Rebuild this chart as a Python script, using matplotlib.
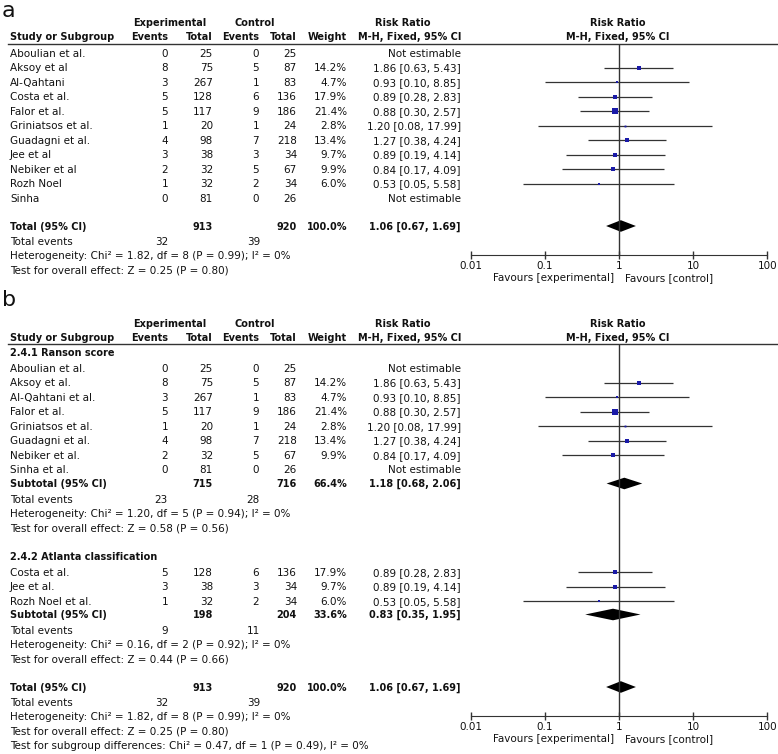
import matplotlib.pyplot as plt

plt.rcParams['font.family'] = ['DejaVu Sans']

# ---- study data (order of panel a) ----
names_a = ["Aboulian et al.", "Aksoy et al", "Al-Qahtani", "Costa et al.", "Falor et al.",
           "Griniatsos et al.", "Guadagni et al.", "Jee et al", "Nebiker et al", "Rozh Noel", "Sinha"]
exp_events = [0, 8, 3, 5, 5, 1, 4, 3, 2, 1, 0]
exp_total = [25, 75, 267, 128, 117, 20, 98, 38, 32, 32, 81]
ctrl_events = [0, 5, 1, 6, 9, 1, 7, 3, 5, 2, 0]
ctrl_total = [25, 87, 83, 136, 186, 24, 218, 34, 67, 34, 26]
weight = [None, 14.2, 4.7, 17.9, 21.4, 2.8, 13.4, 9.7, 9.9, 6.0, None]
rr = [None, 1.86, 0.93, 0.89, 0.88, 1.20, 1.27, 0.89, 0.84, 0.53, None]
rr_lo = [None, 0.63, 0.10, 0.28, 0.30, 0.08, 0.38, 0.19, 0.17, 0.05, None]
rr_hi = [None, 5.43, 8.85, 2.83, 2.57, 17.99, 4.24, 4.14, 4.09, 5.58, None]

# ---- panel b subgroups (indices into the lists above) ----
ranson_idx = [0, 1, 2, 4, 5, 6, 8, 10]
ranson_names = ["Aboulian et al.", "Aksoy et al.", "Al-Qahtani et al.", "Falor et al.",
                "Griniatsos et al.", "Guadagni et al.", "Nebiker et al.", "Sinha et al."]
atlanta_idx = [3, 7, 9]
atlanta_names = ["Costa et al.", "Jee et al.", "Rozh Noel et al."]

# ---- pooled results ----
total_n = [913, 920]
total_events = [32, 39]
total_rr = [1.06, 0.67, 1.69]
total_het = "Heterogeneity: Chi² = 1.82, df = 8 (P = 0.99); I² = 0%"
total_z = "Test for overall effect: Z = 0.25 (P = 0.80)"

ranson_n = [715, 716]
ranson_events = [23, 28]
ranson_weight = 66.4
ranson_rr = [1.18, 0.68, 2.06]
ranson_het = "Heterogeneity: Chi² = 1.20, df = 5 (P = 0.94); I² = 0%"
ranson_z = "Test for overall effect: Z = 0.58 (P = 0.56)"

atlanta_n = [198, 204]
atlanta_events = [9, 11]
atlanta_weight = 33.6
atlanta_rr = [0.83, 0.35, 1.95]
atlanta_het = "Heterogeneity: Chi² = 0.16, df = 2 (P = 0.92); I² = 0%"
atlanta_z = "Test for overall effect: Z = 0.44 (P = 0.66)"

subgroup_test = "Test for subgroup differences: Chi² = 0.47, df = 1 (P = 0.49), I² = 0%"

axis_ticks = [0.01, 0.1, 1, 10, 100]
axis_labels = ["0.01", "0.1", "1", "10", "100"]

# ---- layout (pixels) ----
W, H = 778, 754
FS = 7.5
FS_B = 7
X_NAME, X_EE, X_ET, X_CE, X_CT, X_W, X_RR = 10, 168, 213, 259, 297, 347, 461
X_PLOT0, X_PLOT1 = 470.7, 767.3
ROW = 14.5
LINE_C = '#333333'
SQ_C = '#1a1aa8'

fig = plt.figure(figsize=(W / 100, H / 100), dpi=100)
ax = fig.add_axes([0, 0, 1, 1])
ax.set_xlim(0, W)
ax.set_ylim(H, 0)
ax.axis('off')


def txt(x, y, s, ha='left', bold=False):
    ax.text(x, y + 3.7, s, ha=ha, va='baseline', fontsize=FS_B if bold else FS,
            fontweight='bold' if bold else 'normal', color='#111111')


def fmt_rr(r, lo, hi):
    return f"{r:.2f} [{lo:.2f}, {hi:.2f}]"


def header(y1, y2, yline, y_bot):
    txt(170, y1, "Experimental", ha='center', bold=True)
    txt(255, y1, "Control", ha='center', bold=True)
    txt(403, y1, "Risk Ratio", ha='center', bold=True)
    txt(618, y1, "Risk Ratio", ha='center', bold=True)
    txt(X_NAME, y2, "Study or Subgroup", bold=True)
    txt(X_EE, y2, "Events", ha='right', bold=True)
    txt(X_ET, y2, "Total", ha='right', bold=True)
    txt(X_CE, y2, "Events", ha='right', bold=True)
    txt(X_CT, y2, "Total", ha='right', bold=True)
    txt(X_W, y2, "Weight", ha='right', bold=True)
    txt(X_RR, y2, "M-H, Fixed, 95% CI", ha='right', bold=True)
    txt(618, y2, "M-H, Fixed, 95% CI", ha='center', bold=True)
    ax.plot([8, W], [yline, yline], color=LINE_C, lw=1)

    fa = fig.add_axes([X_PLOT0 / W, 1 - y_bot / H, (X_PLOT1 - X_PLOT0) / W, (y_bot - yline) / H])
    fa.set_xscale('log')
    fa.set_xlim(0.01, 100)
    fa.set_ylim(y_bot, yline)
    fa.patch.set_alpha(0)
    for s in ['left', 'right', 'top']:
        fa.spines[s].set_visible(False)
    fa.spines['bottom'].set_color(LINE_C)
    fa.set_yticks([])
    fa.set_xticks(axis_ticks, axis_labels)
    fa.minorticks_off()
    fa.tick_params(axis='x', direction='inout', length=6, width=1, color=LINE_C,
                   labelsize=FS, pad=1.5, labelcolor='#111111')
    fa.axvline(1, color=LINE_C, lw=1)
    ax.text(614, y_bot + 26, "Favours [experimental]", ha='right', va='baseline', fontsize=FS, color='#111111')
    ax.text(625, y_bot + 26, "Favours [control]", ha='left', va='baseline', fontsize=FS, color='#111111')
    return fa


def study(fa, y, name, i):
    txt(X_NAME, y, name)
    txt(X_EE, y, str(exp_events[i]), ha='right')
    txt(X_ET, y, str(exp_total[i]), ha='right')
    txt(X_CE, y, str(ctrl_events[i]), ha='right')
    txt(X_CT, y, str(ctrl_total[i]), ha='right')
    if rr[i] is None:
        txt(X_RR, y, "Not estimable", ha='right')
        return
    txt(X_W, y, f"{weight[i]:.1f}%", ha='right')
    txt(X_RR, y, fmt_rr(rr[i], rr_lo[i], rr_hi[i]), ha='right')
    fa.hlines(y, rr_lo[i], rr_hi[i], color=LINE_C, lw=0.9)
    fa.plot(rr[i], y, 's', color=SQ_C, ms=0.8 * weight[i] ** 0.5, mew=0)


def pooled(fa, y, label, n, w, res):
    txt(X_NAME, y, label, bold=True)
    txt(X_ET, y, str(n[0]), ha='right', bold=True)
    txt(X_CT, y, str(n[1]), ha='right', bold=True)
    txt(X_W, y, f"{w:.1f}%", ha='right', bold=True)
    txt(X_RR, y, fmt_rr(*res), ha='right', bold=True)
    r, lo, hi = res
    h = 5.8
    fa.fill([lo, r, hi, r], [y, y - h, y, y + h], color='black', lw=0)


def stats(y, ev, het, z):
    txt(X_NAME, y, "Total events")
    txt(X_EE, y, str(ev[0]), ha='right')
    txt(X_CE + 1, y, str(ev[1]), ha='right')
    txt(X_NAME, y + ROW, het)
    txt(X_NAME, y + 2 * ROW, z)


# ================= panel a =================
ax.text(2, 17, "a", fontsize=16, va='baseline', color='#111111')
fa = header(22, 36.5, 44, 255)
for k, name in enumerate(names_a):
    study(fa, 53 + ROW * k, name, k)
pooled(fa, 226, "Total (95% CI)", total_n, 100.0, total_rr)
stats(241, total_events, total_het, total_z)

# ================= panel b =================
ax.text(2, 306, "b", fontsize=16, va='baseline', color='#111111')
fb = header(323, 337.5, 344, 716)
txt(X_NAME, 352, "2.4.1 Ranson score", bold=True)
for k, (i, name) in enumerate(zip(ranson_idx, ranson_names)):
    study(fb, 368 + ROW * k, name, i)
pooled(fb, 483.5, "Subtotal (95% CI)", ranson_n, ranson_weight, ranson_rr)
stats(499, ranson_events, ranson_het, ranson_z)

txt(X_NAME, 556, "2.4.2 Atlanta classification", bold=True)
for k, (i, name) in enumerate(zip(atlanta_idx, atlanta_names)):
    study(fb, 572 + ROW * k, name, i)
pooled(fb, 614.5, "Subtotal (95% CI)", atlanta_n, atlanta_weight, atlanta_rr)
stats(630, atlanta_events, atlanta_het, atlanta_z)

pooled(fb, 687, "Total (95% CI)", total_n, 100.0, total_rr)
stats(702, total_events, total_het, total_z)
txt(X_NAME, 745.5, subgroup_test)

fig.savefig("out.png", dpi=100)
